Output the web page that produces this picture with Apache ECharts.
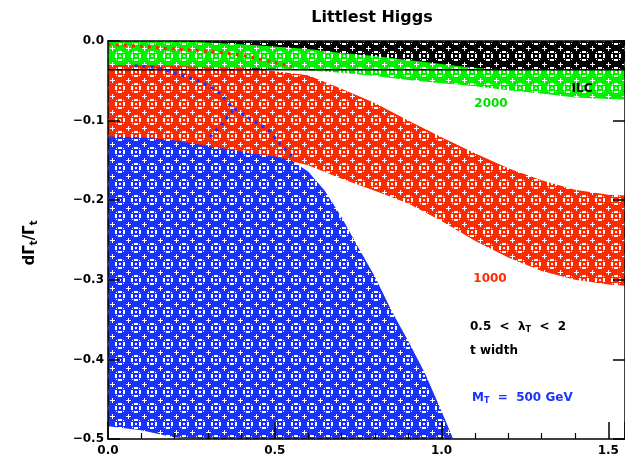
<!DOCTYPE html>
<html><head><meta charset="utf-8">
<script src="https://cdn.jsdelivr.net/npm/echarts@6/dist/echarts.min.js"></script>
<style>html,body{margin:0;padding:0;background:#fff}#c{width:625px;height:459px}</style>
</head><body><div id="c"></div>
<script>
// ---- data ----
const xs = [0,0.1,0.2,0.3,0.4,0.5,0.6,0.7,0.8,0.9,1.0,1.1,1.2,1.3,1.4,1.5,1.6];
const ilcTop = [0,0,0,0,0,0,0,0,0,0,0,0,0,0,0,0,0];
const ilcBot = [-0.036,-0.036,-0.036,-0.036,-0.036,-0.036,-0.036,-0.036,-0.036,-0.036,-0.036,-0.036,-0.036,-0.036,-0.036,-0.036,-0.036];
const m2000Top = [0,0,0,-0.002,-0.004,-0.007,-0.010,-0.015,-0.019,-0.024,-0.029,-0.034,-0.036,-0.036,-0.036,-0.036,-0.036];
const m2000Bot = [-0.030,-0.030,-0.031,-0.033,-0.034,-0.035,-0.037,-0.040,-0.044,-0.049,-0.053,-0.057,-0.062,-0.066,-0.071,-0.073,-0.074];
const m1000Top = [-0.030,-0.030,-0.030,-0.032,-0.034,-0.038,-0.043,-0.060,-0.078,-0.100,-0.121,-0.141,-0.160,-0.175,-0.187,-0.193,-0.195];
const m1000Bot = [-0.130,-0.132,-0.135,-0.139,-0.143,-0.146,-0.156,-0.173,-0.188,-0.204,-0.226,-0.251,-0.272,-0.289,-0.300,-0.306,-0.309];
const m500X   = [0,0.1,0.2,0.3,0.4,0.5,0.55,0.6,0.65,0.7,0.75,0.8,0.85,0.9,0.95,1.0,1.035];
const m500Top = [-0.120,-0.121,-0.125,-0.132,-0.139,-0.145,-0.150,-0.164,-0.188,-0.221,-0.259,-0.296,-0.339,-0.377,-0.417,-0.465,-0.500];
const m500Bot = [-0.484,-0.489,-0.498,-0.5,-0.5,-0.5,-0.5,-0.5,-0.5,-0.5,-0.5,-0.5,-0.5,-0.5,-0.5,-0.5,-0.5];
const ilcLineX = [0,1.6];
const ilcLineY = [-0.036,-0.036];
const redDotX = [0.0,0.1,0.2,0.3,0.4,0.5,0.55];
const redDotY = [-0.004,-0.007,-0.010,-0.013,-0.018,-0.027,-0.032];
const blueDotAX = [0.08,0.15,0.19,0.27,0.33,0.37,0.42,0.48,0.515,0.555];
const blueDotAY = [-0.031,-0.034,-0.039,-0.050,-0.064,-0.082,-0.096,-0.112,-0.129,-0.146];
const blueDotBX = [0.374,0.344,0.305];
const blueDotBY = [-0.087,-0.103,-0.121];

// ---- pattern tiles ----
function makeTile(color){
  const c=document.createElement('canvas'); c.width=16; c.height=16;
  const g=c.getContext('2d');
  g.fillStyle=color; g.fillRect(0,0,16,16);
  g.fillStyle='#fff';
  g.fillRect(7,7,2,2);
  g.fillRect(6,3,4,2); g.fillRect(6,11,4,2); g.fillRect(3,6,2,4); g.fillRect(11,6,2,4);
  g.fillRect(4,4,1,1); g.fillRect(11,4,1,1); g.fillRect(4,11,1,1); g.fillRect(11,11,1,1);
  g.fillRect(0,0,3,1); g.fillRect(14,0,2,1); g.fillRect(0,0,1,3); g.fillRect(0,14,1,2);
  return c;
}
const tBlack=makeTile('#000000'), tGreen=makeTile('#00f000'), tRed=makeTile('#ff2a00'), tBlue=makeTile('#1a32ff');

function band(xArr, top, bot, tile, z){
  return {type:'custom', coordinateSystem:'cartesian2d', z:z, silent:true, clip:true,
    data: xArr.map((x,i)=>[x, top[i], bot[i]]),
    encode:{x:0, y:[1,2]},
    renderItem(params, api){
      if(params.dataIndex!==0) return;
      const pts=[];
      for(let i=0;i<xArr.length;i++) pts.push(api.coord([xArr[i], top[i]]));
      for(let i=xArr.length-1;i>=0;i--) pts.push(api.coord([xArr[i], bot[i]]));
      return {type:'polygon', shape:{points:pts}, style:{fill:{image:tile, repeat:'repeat'}, stroke:null}};
    }};
}
function line(xArr, yArr, color, type, width, z){
  return {type:'line', z:z, zlevel:0, silent:true, symbol:'none', smooth:0.3, data:xArr.map((x,i)=>[x,yArr[i]]),
    lineStyle:{color:color, type:type, width:width}};
}

const fmtX = v => (Math.abs(v*2-Math.round(v*2))<1e-6) ? v.toFixed(1) : '';
const fmtY = v => Math.abs(v)<1e-9 ? '0.0' : '\u2212' + (-v).toFixed(1);
const axisCommon = {axisLine:{onZero:false, lineStyle:{color:'#000', width:1.5}}, splitLine:{show:false}, z:10};
const lblStyle = {color:'#000', fontWeight:'bold', fontSize:12, fontFamily:'DejaVu Sans'};

const chart = echarts.init(document.getElementById('c'), null, {renderer:'canvas'});
chart.setOption({
  animation:false,
  backgroundColor:'#fff',
  grid:{left:108, top:41, width:518, height:398},
  xAxis:[
    Object.assign({type:'value', min:0, max:1.55, interval:0.5, position:'bottom',
      axisTick:{inside:true, length:17, lineStyle:{color:'#000', width:1.5}},
      minorTick:{show:true, splitNumber:5, length:6, lineStyle:{color:'#000', width:1.2}},
      axisLabel:Object.assign({formatter:fmtX, margin:6, showMaxLabel:false}, lblStyle)}, axisCommon),
    Object.assign({type:'value', min:0, max:1.55, position:'top', axisTick:{show:false}, axisLabel:{show:false}}, axisCommon)
  ],
  yAxis:[
    Object.assign({type:'value', min:-0.5, max:0, interval:0.1, position:'left',
      axisTick:{inside:true, length:12, lineStyle:{color:'#000', width:1.5}},
      axisLabel:Object.assign({formatter:fmtY, margin:4}, lblStyle)}, axisCommon),
    Object.assign({type:'value', min:-0.5, max:0, interval:0.1, position:'right',
      axisTick:{inside:true, length:12, lineStyle:{color:'#000', width:1.5}},
      axisLabel:{show:false}}, axisCommon)
  ],
  series:[
    band(xs, ilcTop, ilcBot, tBlack, 1),
    band(xs, m1000Top, m1000Bot, tRed, 2),
    band(xs, m2000Top, m2000Bot, tGreen, 3),
    band(m500X, m500Top, m500Bot, tBlue, 4),
    line(ilcLineX, ilcLineY, '#000', 'solid', 1.5, 5),
    line(redDotX, redDotY, '#ff2a00', [3,5], 3, 6),
    line(blueDotAX, blueDotAY, '#1a32ff', [3,5], 3, 6),
    line(blueDotBX, blueDotBY, '#1a32ff', [3,5], 3, 6)
  ],
  graphic:[
    {type:'text', z:20, style:{x:372, y:18, text:'Littlest Higgs', align:'center', verticalAlign:'middle',
      font:'bold 16px "DejaVu Sans"', fill:'#000'}},
    {type:'text', z:20, x:30, y:243, rotation:Math.PI/2, style:{x:0, y:0, align:'center', verticalAlign:'middle',
      text:'{a|d\u0393}{s|t}{a|/\u0393}{s|t}',
      rich:{a:{font:'bold 15px "DejaVu Sans"', fill:'#000'}, s:{font:'bold 10px "DejaVu Sans"', fill:'#000', padding:[8,0,0,0]}}}},
    {type:'text', z:20, style:{x:582, y:89, text:'ILC', align:'center', verticalAlign:'middle', font:'bold 12px "DejaVu Sans"', fill:'#000'}},
    {type:'text', z:20, style:{x:491, y:104, text:'2000', align:'center', verticalAlign:'middle', font:'bold 12px "DejaVu Sans"', fill:'#00e000'}},
    {type:'text', z:20, style:{x:490, y:279, text:'1000', align:'center', verticalAlign:'middle', font:'bold 12px "DejaVu Sans"', fill:'#ff2a00'}},
    {type:'text', z:20, style:{x:470, y:327, verticalAlign:'middle',
      text:'{a|0.5  <  \u03bb}{s|T}{a|  <  2}',
      rich:{a:{font:'bold 12px "DejaVu Sans"', fill:'#000'}, s:{font:'bold 8px "DejaVu Sans"', fill:'#000', padding:[6,0,0,0]}}}},
    {type:'text', z:20, style:{x:470, y:351, verticalAlign:'middle', text:'t width', font:'bold 12px "DejaVu Sans"', fill:'#000'}},
    {type:'text', z:20, style:{x:472, y:398, verticalAlign:'middle',
      text:'{a|M}{s|T}{a|  =  500 GeV}',
      rich:{a:{font:'bold 12px "DejaVu Sans"', fill:'#1a32ff'}, s:{font:'bold 8px "DejaVu Sans"', fill:'#1a32ff', padding:[6,0,0,0]}}}}
  ]
});
</script></body></html>
